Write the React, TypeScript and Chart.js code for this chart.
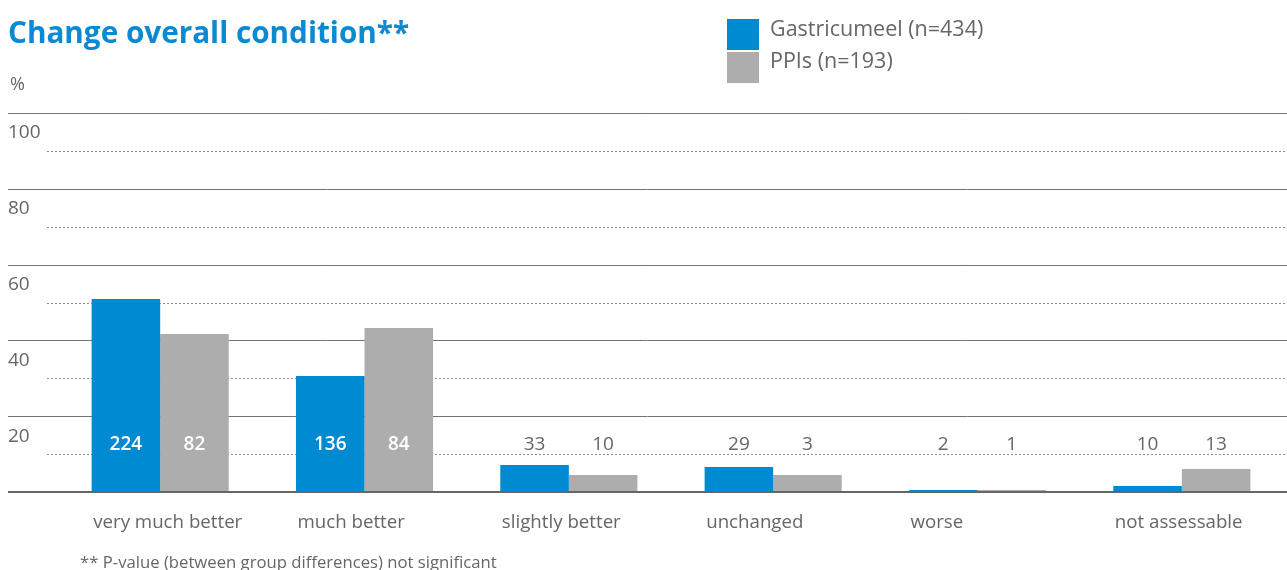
import React, { useEffect, useRef } from "react";
import { Chart, registerables } from "chart.js";

Chart.register(...registerables);

const categories = ["very much better", "much better", "slightly better", "unchanged", "worse", "not assessable"];
const seriesNames = ["Gastricumeel (n=434)", "PPIs (n=193)"];
const gastricumeelPct = [50.9, 30.6, 7.1, 6.6, 0.5, 1.6];
const ppiPct = [41.7, 43.3, 4.5, 4.5, 0.5, 6.1];
const gastricumeelN = [224, 136, 33, 29, 2, 10];
const ppiN = [82, 84, 10, 3, 1, 13];
const yTickLabels = [20, 40, 60, 80, 100];
const yMinorTicks = [10, 30, 50, 70, 90];
const countLabelLevel = 12.4;

const BLUE = "#008ad2";
const GRAY = "#adadad";
const TEXT = "#666666";
const FONT = "'Open Sans', 'Noto Sans', sans-serif";

const decor = {
  id: "decor",
  beforeDatasetsDraw(chart: any) {
    const ctx = chart.ctx;
    const y = chart.scales.y;
    const W = chart.width;
    ctx.save();
    ctx.lineWidth = 1;
    ctx.strokeStyle = "#8c8c8c";
    ctx.setLineDash([2, 2]);
    yMinorTicks.forEach((v) => {
      const py = Math.round(y.getPixelForValue(v)) + 0.5;
      ctx.beginPath();
      ctx.moveTo(47, py);
      ctx.lineTo(W, py);
      ctx.stroke();
    });
    ctx.setLineDash([]);
    ctx.strokeStyle = "#737373";
    yTickLabels.forEach((v) => {
      const py = Math.round(y.getPixelForValue(v)) + 0.5;
      ctx.beginPath();
      ctx.moveTo(8, py);
      ctx.lineTo(W, py);
      ctx.stroke();
    });
    ctx.fillStyle = TEXT;
    ctx.font = `19px ${FONT}`;
    ctx.textAlign = "left";
    ctx.textBaseline = "middle";
    yTickLabels.forEach((v) => {
      ctx.fillText(String(v), 8, y.getPixelForValue(v) + 20);
    });
    ctx.restore();
  },
  afterDatasetsDraw(chart: any) {
    const ctx = chart.ctx;
    const y = chart.scales.y;
    const W = chart.width;
    ctx.save();
    ctx.strokeStyle = "#666666";
    ctx.lineWidth = 2;
    const p0 = Math.round(y.getPixelForValue(0));
    ctx.beginPath();
    ctx.moveTo(8, p0);
    ctx.lineTo(W, p0);
    ctx.stroke();
    ctx.textAlign = "center";
    ctx.textBaseline = "middle";
    const ly = y.getPixelForValue(countLabelLevel);
    chart.data.datasets.forEach((ds: any, di: number) => {
      const meta = chart.getDatasetMeta(di);
      const counts = di === 0 ? gastricumeelN : ppiN;
      meta.data.forEach((bar: any, i: number) => {
        const inside = ds.data[i] > 20;
        ctx.font = inside ? `600 19px ${FONT}` : `19px ${FONT}`;
        ctx.fillStyle = inside ? "#ffffff" : TEXT;
        ctx.fillText(String(counts[i]), bar.x, ly);
      });
    });
    ctx.restore();
  },
};

export default function App() {
  const ref = useRef<HTMLCanvasElement | null>(null);
  useEffect(() => {
    document.body.style.margin = "0";
    if (!ref.current) return;
    const chart = new Chart(ref.current, {
      type: "bar",
      data: {
        labels: categories,
        datasets: [
          {
            label: seriesNames[0],
            data: gastricumeelPct,
            backgroundColor: BLUE,
            borderWidth: 0,
            barPercentage: 1,
            categoryPercentage: 0.671,
          },
          {
            label: seriesNames[1],
            data: ppiPct,
            backgroundColor: GRAY,
            borderWidth: 0,
            barPercentage: 1,
            categoryPercentage: 0.671,
          },
        ],
      },
      options: {
        responsive: false,
        maintainAspectRatio: false,
        animation: false,
        layout: { padding: { left: 58, right: 3, top: 113, bottom: 38 } },
        plugins: { legend: { display: false }, tooltip: { enabled: false } },
        scales: {
          x: {
            grid: { display: false, drawTicks: false },
            border: { display: false },
            ticks: {
              color: TEXT,
              font: { family: FONT, size: 18.7 },
              padding: 19,
              align: "start",
              labelOffset: -67,
              autoSkip: false,
              maxRotation: 0,
            },
            afterFit: (s: any) => {
              s.height = 40;
              s.paddingLeft = 0;
              s.paddingRight = 0;
            },
          },
          y: { display: false, min: 0, max: 100 },
        },
      } as any,
      plugins: [decor],
    });
    return () => chart.destroy();
  }, []);

  const sq = (color: string, top: number) => (
    <div style={{ position: "absolute", left: 727, top, width: 32, height: 31, background: color }} />
  );
  const txt = (s: string, left: number, top: number, size: number, extra: any = {}) => (
    <div
      style={{
        position: "absolute",
        left,
        top,
        fontFamily: FONT,
        fontSize: size,
        lineHeight: 1,
        color: TEXT,
        whiteSpace: "nowrap",
        ...extra,
      }}
    >
      {s}
    </div>
  );

  return (
    <div style={{ position: "relative", width: 1287, height: 570, overflow: "hidden", background: "#fff" }}>
      <canvas ref={ref} width={1287} height={570} style={{ position: "absolute", left: 0, top: 0 }} />
      {txt("Change overall condition**", 8, 17, 29.7, { color: "#0a8ad2", fontWeight: 700 })}
      {txt("%", 10, 74, 18)}
      {sq(BLUE, 19)}
      {sq(GRAY, 52)}
      {txt(seriesNames[0], 770, 17, 21.5)}
      {txt(seriesNames[1], 770, 49, 21.5)}
      {txt("** P-value (between group differences) not significant", 80, 554, 16.7)}
    </div>
  );
}
